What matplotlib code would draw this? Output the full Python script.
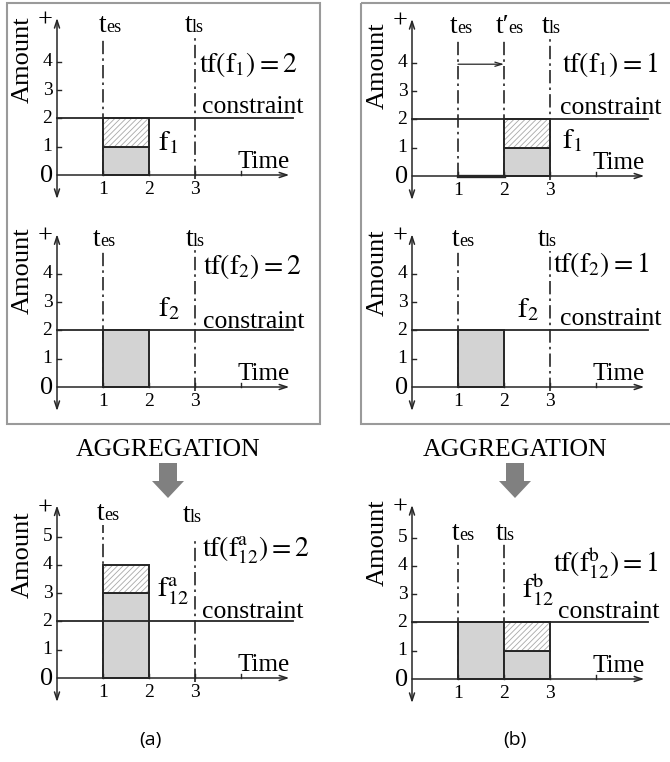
import matplotlib
matplotlib.use('Agg')
import matplotlib.pyplot as plt
from matplotlib.patches import FancyArrow, Rectangle

plt.rcParams['font.family'] = ['Liberation Serif', 'DejaVu Serif']
plt.rcParams['mathtext.fontset'] = 'stix'
plt.rcParams['hatch.linewidth'] = 0.6

# ---- data ----
constraint = 2
xticks = [1, 2, 3]
yticks_top = [1, 2, 3, 4]
yticks_agg = [1, 2, 3, 4, 5]

# (a)  f1 / f2 / aggregated f12a : bar start, gray height, hatched height
start_a1, gray_a1, hatch_a1 = [1], [1], [1]
start_a2, gray_a2, hatch_a2 = [1], [2], [0]
start_a12, gray_a12, hatch_a12 = [1], [3], [1]
# (b)  f1 shifted to t'es=2
start_b1, gray_b1, hatch_b1 = [2], [1], [1]
start_b2, gray_b2, hatch_b2 = [1], [2], [0]
start_b12, gray_b12, hatch_b12 = [1, 2], [2, 1], [0, 1]

t_es = 1
t_es_new = 2
t_ls = 3
t_ls_b12 = 2

W, H = 670, 762
UX, UY = 46, 28.3
XL = (-1.3, 5.8)
LC = '#262626'
GRAY = '#d3d3d3'

fig = plt.figure(figsize=(W / 100, H / 100), dpi=100)


def make_ax(ox, oy, ytop):
    yl = (-1.2, ytop)
    left = (ox + XL[0] * UX) / W
    bottom = 1 - (oy - yl[0] * UY) / H
    ax = fig.add_axes([left, bottom, (XL[1] - XL[0]) * UX / W, (yl[1] - yl[0]) * UY / H])
    ax.set_xlim(XL)
    ax.set_ylim(yl)
    ax.axis('off')
    return ax


def draw_panel(ax, starts, gray, hatch, yticks, arrow_top, amount_y):
    # bars
    ax.bar(starts, gray, width=1, align='edge', color=GRAY, edgecolor=LC, linewidth=1.4, zorder=2)
    ax.bar(starts, hatch, width=1, bottom=gray, align='edge', color='white',
           edgecolor='#a8a8a8', hatch='//////', linewidth=0, zorder=2)
    ax.bar(starts, hatch, width=1, bottom=gray, align='edge', fill=False,
           edgecolor=LC, linewidth=1.4, zorder=3)
    # axes arrows
    ax.annotate('', xy=(0, arrow_top), xytext=(0, -0.85),
                arrowprops=dict(arrowstyle='<->,head_length=0.55,head_width=0.18',
                                lw=1.1, color=LC, shrinkA=0, shrinkB=0))
    ax.annotate('', xy=(5.05, 0), xytext=(0, 0),
                arrowprops=dict(arrowstyle='->,head_length=0.55,head_width=0.18',
                                lw=1.1, color=LC, shrinkA=0, shrinkB=0))
    # ticks
    for t in yticks:
        ax.plot([0, 0.08], [t, t], color=LC, lw=1)
        ax.text(-0.1, t, str(t), ha='right', va='center', fontsize=14)
    ax.text(-0.08, -0.05, '0', ha='right', va='center', fontsize=19)
    for t in xticks + [4]:
        ax.plot([t, t], [0, 0.14], color=LC, lw=1)
    for t in xticks:
        ax.text(t, -0.2, str(t), ha='center', va='top', fontsize=14)
    ax.text(-0.27, arrow_top - 0.1, '+', ha='center', va='center', fontsize=19)
    ax.text(-0.74, amount_y, 'Amount', rotation=90, ha='center', va='center', fontsize=19)
    ax.text(3.92, 0.25, 'Time', ha='left', va='baseline', fontsize=18)
    # constraint
    ax.plot([0, 5.12], [constraint, constraint], color=LC, lw=1.3, zorder=4)


def dashdot(ax, x, y0, y1):
    ax.plot([x, x], [y0, y1], color=LC, lw=1.2, dashes=(8, 2.5, 1.5, 2.5), zorder=1)


def tlabel(ax, x, y, main, sub):
    ax.text(x, y, main, ha='left', va='baseline', fontsize=20)
    off = 0.15 if main == 't' else 0.27
    ax.text(x + off, y, sub, ha='left', va='baseline', fontsize=13)


# ---------------- (a) top ----------------
ax = make_ax(57, 175, 6.0)
draw_panel(ax, start_a1, gray_a1, hatch_a1, yticks_top, 5.55, 4.06)
dashdot(ax, t_es, 0, 4.85)
dashdot(ax, t_ls, -0.15, 4.85)
tlabel(ax, 0.91, 5.05, 't', 'es')
tlabel(ax, 2.78, 5.05, 't', 'ls')
ax.text(3.09, 3.65, r'$\mathrm{tf(f}_1\mathrm{)=2}$', fontsize=20, va='baseline')
ax.text(3.15, 2.19, 'constraint', fontsize=18.5, va='baseline')
ax.text(2.2, 0.88, r'$\mathrm{f}_1$', fontsize=21, va='baseline')

# ---------------- (a) middle ----------------
ax = make_ax(57, 387, 6.0)
draw_panel(ax, start_a2, gray_a2, hatch_a2, yticks_top, 5.4, 4.1)
dashdot(ax, t_es, 0, 4.85)
dashdot(ax, t_ls, -0.15, 4.85)
tlabel(ax, 0.78, 5.0, 't', 'es')
tlabel(ax, 2.8, 5.0, 't', 'ls')
ax.text(3.17, 4.0, r'$\mathrm{tf(f}_2\mathrm{)=2}$', fontsize=20, va='baseline')
ax.text(3.17, 2.1, 'constraint', fontsize=18.5, va='baseline')
ax.text(2.2, 2.5, r'$\mathrm{f}_2$', fontsize=21, va='baseline')

# ---------------- (a) aggregated ----------------
ax = make_ax(57, 678, 6.6)
draw_panel(ax, start_a12, gray_a12, hatch_a12, yticks_agg, 6.1, 4.35)
dashdot(ax, t_es, 0, 5.4)
dashdot(ax, t_ls, -0.15, 5.0)
tlabel(ax, 0.87, 5.58, 't', 'es')
tlabel(ax, 2.74, 5.5, 't', 'ls')
ax.text(3.15, 4.28, r'$\mathrm{tf(f}_{12}^{\mathrm{a}}\mathrm{)=2}$', fontsize=20, va='baseline')
ax.text(3.15, 2.12, 'constraint', fontsize=18.5, va='baseline')
ax.text(2.17, 2.86, r'$\mathrm{f}_{12}^{\mathrm{a}}$', fontsize=21, va='baseline')

# ---------------- (b) top ----------------
ax = make_ax(412, 176, 6.0)
draw_panel(ax, start_b1, gray_b1, hatch_b1, yticks_top, 5.55, 3.9)
dashdot(ax, t_es, 0, 4.85)
dashdot(ax, t_es_new, 0, 4.85)
dashdot(ax, t_ls, -0.15, 4.85)
ax.plot([t_es, t_es_new], [0, 0], color=LC, lw=2.4)
ax.annotate('', xy=(t_es_new, 3.95), xytext=(t_es, 3.95),
            arrowprops=dict(arrowstyle='->,head_length=0.5,head_width=0.15',
                            lw=0.9, color=LC, shrinkA=0, shrinkB=0))
tlabel(ax, 0.83, 5.05, 't', 'es')
tlabel(ax, 1.82, 5.05, 't\u2032', 'es')
tlabel(ax, 2.83, 5.05, 't', 'ls')
ax.text(3.26, 3.67, r'$\mathrm{tf(f}_1\mathrm{)=1}$', fontsize=20, va='baseline')
ax.text(3.22, 2.2, 'constraint', fontsize=18.5, va='baseline')
ax.text(3.26, 1.0, r'$\mathrm{f}_1$', fontsize=21, va='baseline')

# ---------------- (b) middle ----------------
ax = make_ax(412, 387, 6.0)
draw_panel(ax, start_b2, gray_b2, hatch_b2, yticks_top, 5.4, 4.05)
dashdot(ax, t_es, 0, 4.8)
dashdot(ax, t_ls, -0.15, 4.8)
tlabel(ax, 0.87, 5.0, 't', 'es')
tlabel(ax, 2.74, 5.0, 't', 'ls')
ax.text(3.07, 4.05, r'$\mathrm{tf(f}_2\mathrm{)=1}$', fontsize=20, va='baseline')
ax.text(3.22, 2.2, 'constraint', fontsize=18.5, va='baseline')
ax.text(2.28, 2.47, r'$\mathrm{f}_2$', fontsize=21, va='baseline')

# ---------------- (b) aggregated ----------------
ax = make_ax(412, 679, 6.6)
draw_panel(ax, start_b12, gray_b12, hatch_b12, yticks_agg, 6.15, 4.8)
dashdot(ax, t_es, 0, 4.8)
dashdot(ax, t_ls_b12, 0, 4.8)
tlabel(ax, 0.87, 4.9, 't', 'es')
tlabel(ax, 1.83, 4.9, 't', 'ls')
ax.text(3.07, 3.8, r'$\mathrm{tf(f}_{12}^{\mathrm{b}}\mathrm{)=1}$', fontsize=20, va='baseline')
ax.text(3.17, 2.15, 'constraint', fontsize=18.5, va='baseline')
ax.text(2.4, 2.86, r'$\mathrm{f}_{12}^{\mathrm{b}}$', fontsize=21, va='baseline')

# ---------------- overlay: frames, aggregation arrows, captions ----------------
ov = fig.add_axes([0, 0, 1, 1])
ov.set_xlim(0, W)
ov.set_ylim(H, 0)
ov.axis('off')
ov.patch.set_alpha(0)
ov.add_patch(Rectangle((7, 3), 313, 421, fill=False, edgecolor='#9a9a9a', lw=1.5))
ov.add_patch(Rectangle((361, 3), 320, 421, fill=False, edgecolor='#9a9a9a', lw=1.5))
for cx in [168, 515]:
    ov.text(cx, 450, 'AGGREGATION', ha='center', va='center', fontsize=18.5)
    ov.add_patch(FancyArrow(cx, 463, 0, 35, width=18, head_width=32, head_length=17,
                            length_includes_head=True, color='#808080', lw=0))
ov.text(150, 740, '(a)', ha='center', va='center', fontsize=14, family=['Open Sans', 'DejaVu Sans'])
ov.text(515, 740, '(b)', ha='center', va='center', fontsize=14, family=['Open Sans', 'DejaVu Sans'])

fig.savefig('out.png', dpi=100)
